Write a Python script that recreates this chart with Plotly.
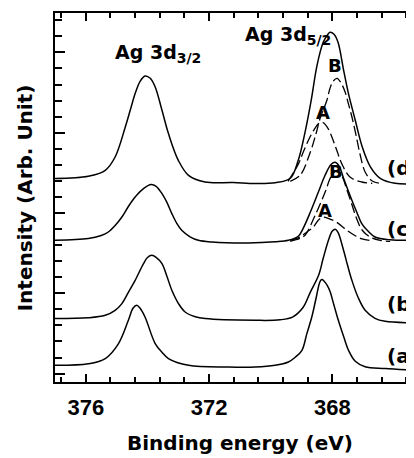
import plotly.graph_objects as go

# ---------------- data ----------------
# Binding energy (eV) and intensity (arb. units) for each spectrum
E_a = [377.0, 375.92, 375.37, 374.94, 374.62, 374.47, 374.35, 374.24, 374.08, 373.75, 373.53,
       373.32, 372.67, 371.37, 370.51, 369.86, 369.43, 369.21, 368.99, 368.83, 368.67, 368.53,
       368.40, 368.34, 368.27, 368.17, 368.08, 367.95, 367.81, 367.64, 367.48, 367.26, 366.94,
       366.29, 365.35]
I_a = [16.7, 18.2, 23.4, 38.4, 61.7, 73.7, 76.7, 73.7, 65.0, 38.4, 29.7,
       23.4, 16.7, 15.0, 15.0, 16.7, 20.0, 24.7, 31.7, 48.4, 65.0, 84.0,
       100.7, 102.4, 100.7, 96.7, 90.7, 76.7, 61.7, 45.7, 31.7, 20.7, 15.2,
       13.4, 11.7]

E_b = [377.0, 375.92, 375.37, 375.05, 374.83, 374.62, 374.40, 374.13, 374.00, 373.86, 373.72,
       373.53, 373.37, 373.21, 373.00, 372.78, 372.45, 372.13, 370.51, 369.70, 369.28, 368.95,
       368.72, 368.45, 368.30, 368.13, 368.01, 367.91, 367.82, 367.64, 367.51, 367.37, 367.17,
       366.94, 366.62, 366.29, 365.35]
I_b = [63.4, 64.2, 66.7, 71.7, 78.4, 89.7, 101.7, 118.4, 124.5, 126.7, 124.7,
       118.4, 105.7, 91.7, 78.7, 70.0, 65.2, 63.4, 61.7, 62.2, 65.2, 74.7,
       89.7, 106.7, 123.7, 141.7, 150.7, 152.7, 149.7, 131.7, 116.7, 101.7, 84.7,
       71.7, 63.7, 60.7, 59.2]

E_c = [377.0, 375.92, 375.50, 375.27, 375.05, 374.83, 374.62, 374.40, 374.13, 373.88, 373.72,
       373.53, 373.37, 373.21, 373.05, 372.89, 372.62, 372.35, 371.91, 370.73, 369.86, 369.43,
       369.11, 368.95, 368.72, 368.46, 368.24, 368.04, 367.91, 367.78, 367.64, 367.37, 367.21,
       367.05, 366.84, 366.62, 366.13, 365.35]
I_c = [141.7, 143.4, 146.5, 150.0, 156.5, 165.0, 175.5, 185.0, 193.4, 197.4, 195.7,
       188.4, 179.7, 168.4, 158.7, 151.7, 145.2, 141.7, 140.0, 139.0, 140.2, 141.7,
       145.7, 153.7, 169.7, 189.7, 206.7, 217.7, 219.7, 215.7, 203.7, 181.7, 169.7,
       158.4, 150.7, 145.0, 142.2, 141.7]

E_cA = [369.37, 369.05, 368.83, 368.62, 368.46, 368.33, 368.14, 367.86, 367.53, 367.26, 367.04, 366.71]
I_cA = [141.7, 145.0, 150.0, 155.0, 161.7, 164.7, 163.7, 159.7, 151.7, 146.2, 143.2, 141.2]

E_cB = [369.37, 369.05, 368.89, 368.56, 368.24, 368.04, 367.85, 367.69, 367.53, 367.37, 367.23,
        367.04, 366.78, 366.45, 366.13]
I_cB = [140.7, 143.7, 146.7, 166.7, 189.7, 205.7, 211.7, 205.7, 192.0, 177.5, 164.5,
        152.0, 145.0, 141.7, 140.7]

E_d = [377.0, 375.92, 375.37, 375.05, 374.72, 374.56, 374.40, 374.24, 374.08, 373.91, 373.75,
       373.53, 373.32, 373.00, 372.67, 372.13, 371.22, 370.51, 369.86, 369.37, 369.11, 368.89,
       368.69, 368.50, 368.30, 368.17, 368.08, 367.95, 367.82, 367.65, 367.49, 367.26, 367.04,
       366.78, 366.45, 365.97, 365.35]
I_d = [203.4, 205.7, 211.7, 225.0, 255.0, 271.7, 288.4, 300.7, 306.0, 303.7, 295.0,
       271.7, 248.4, 221.7, 206.7, 200.0, 199.4, 198.4, 199.2, 203.7, 221.7, 249.7,
       281.7, 316.7, 339.7, 346.7, 349.7, 347.7, 339.7, 313.7, 289.7, 261.7, 235.7,
       215.7, 203.7, 198.7, 198.2]

E_dA = [369.44, 369.10, 368.95, 368.78, 368.59, 368.45, 368.33, 368.21, 368.08, 367.86, 367.70,
        367.43, 367.05, 366.71]
I_dA = [200.7, 218.4, 229.7, 241.7, 252.7, 258.4, 259.7, 256.7, 249.7, 231.7, 218.4,
        205.0, 200.0, 198.7]

E_dB = [369.37, 369.05, 368.72, 368.53, 368.40, 368.18, 368.08, 367.98, 367.85, 367.72, 367.59,
        367.49, 367.36, 367.23, 367.10, 366.94, 366.71, 366.45]
I_dB = [200.7, 206.7, 229.7, 248.7, 263.7, 281.7, 293.7, 300.7, 303.7, 299.0, 290.0,
        279.0, 264.0, 246.0, 227.0, 210.0, 201.0, 198.7]

x_ticks = [376, 372, 368]
x_ticktext = ["376", "372", "368"]

# curve labels: (text, energy, intensity)
curve_labels = [("(a)", 366.29, 25.7), ("(b)", 366.29, 78.2),
                ("(c)", 366.29, 153.2), ("(d)", 366.29, 214.2)]
comp_labels = [("A", 368.24, 171.7), ("B", 367.88, 210.2),
               ("A", 368.30, 269.7), ("B", 367.91, 316.7)]
sub_style = "<sub><span style='font-size:14px'>%s</span></sub>"
peak_labels = [("Ag 3d" + sub_style % "3/2", 373.67, 328.7),
               ("Ag 3d" + sub_style % "5/2", 369.45, 346.7)]

x_title = "Binding energy (eV)"
y_title = "Intensity (Arb. Unit)"

# ---------------- figure ----------------
fig = go.Figure()
solid = dict(color="black", width=1.5, shape="spline")
dashed = dict(color="black", width=1.3, shape="spline", dash="10px,4px")

for E, I in [(E_cA, I_cA), (E_cB, I_cB), (E_dA, I_dA), (E_dB, I_dB)]:
    fig.add_trace(go.Scatter(x=E, y=I, mode="lines", line=dashed, hoverinfo="skip"))
for E, I in [(E_a, I_a), (E_b, I_b), (E_c, I_c), (E_d, I_d)]:
    fig.add_trace(go.Scatter(x=E, y=I, mode="lines", line=solid, hoverinfo="skip"))

title_font = dict(family="DejaVu Sans", size=20, color="black", weight="bold")

for txt, x, y in curve_labels:
    fig.add_annotation(x=x, y=y, text=txt, showarrow=False, xanchor="left", yanchor="middle",
                       font=title_font)
for txt, x, y in comp_labels:
    fig.add_annotation(x=x, y=y, text=txt, showarrow=False, xanchor="center", yanchor="middle",
                       font=dict(family="DejaVu Sans", size=18, color="black", weight="bold"))
for txt, x, y in peak_labels:
    fig.add_annotation(x=x, y=y, text=txt, showarrow=False, xanchor="center", yanchor="middle",
                       font=dict(family="DejaVu Sans", size=19, color="black", weight="bold"))

# axis titles
fig.add_annotation(xref="paper", yref="paper", x=0.515, y=-0.165, text=x_title, showarrow=False,
                   xanchor="center", yanchor="middle", font=title_font)
fig.add_annotation(xref="paper", yref="paper", x=-0.084, y=0.5, text=y_title, showarrow=False,
                   textangle=-90, xanchor="center", yanchor="middle", font=title_font)

# the page body adds an 8 px margin, so the figure is drawn 8 px smaller on each side
fig.update_layout(
    width=406, height=450,
    margin=dict(l=47, r=0, t=5, b=76),
    paper_bgcolor="white", plot_bgcolor="white",
    showlegend=False,
    xaxis=dict(
        range=[377.0, 365.355], automargin=False,
        tickvals=x_ticks, ticktext=x_ticktext,
        ticks="inside", ticklen=8, tickwidth=1.5, tickcolor="black",
        minor=dict(tick0=376, dtick=0.8, ticks="inside", ticklen=5, tickwidth=1.5, tickcolor="black"),
        showline=True, linecolor="black", linewidth=2, mirror="ticks",
        showgrid=False, zeroline=False,
        tickfont=dict(family="Liberation Sans", size=22, color="black", weight="bold"),
        ticklabelstandoff=5,
    ),
    yaxis=dict(
        range=[0, 369], automargin=False,
        tick0=8.4, dtick=80.3,
        ticks="inside", ticklen=10, tickwidth=1.5, tickcolor="black",
        minor=dict(tick0=8.4, dtick=16.06, ticks="inside", ticklen=7, tickwidth=1.5, tickcolor="black"),
        showticklabels=False,
        showline=True, linecolor="black", linewidth=2, mirror=False,
        showgrid=False, zeroline=False,
    ),
)

fig.write_html("out.html")
